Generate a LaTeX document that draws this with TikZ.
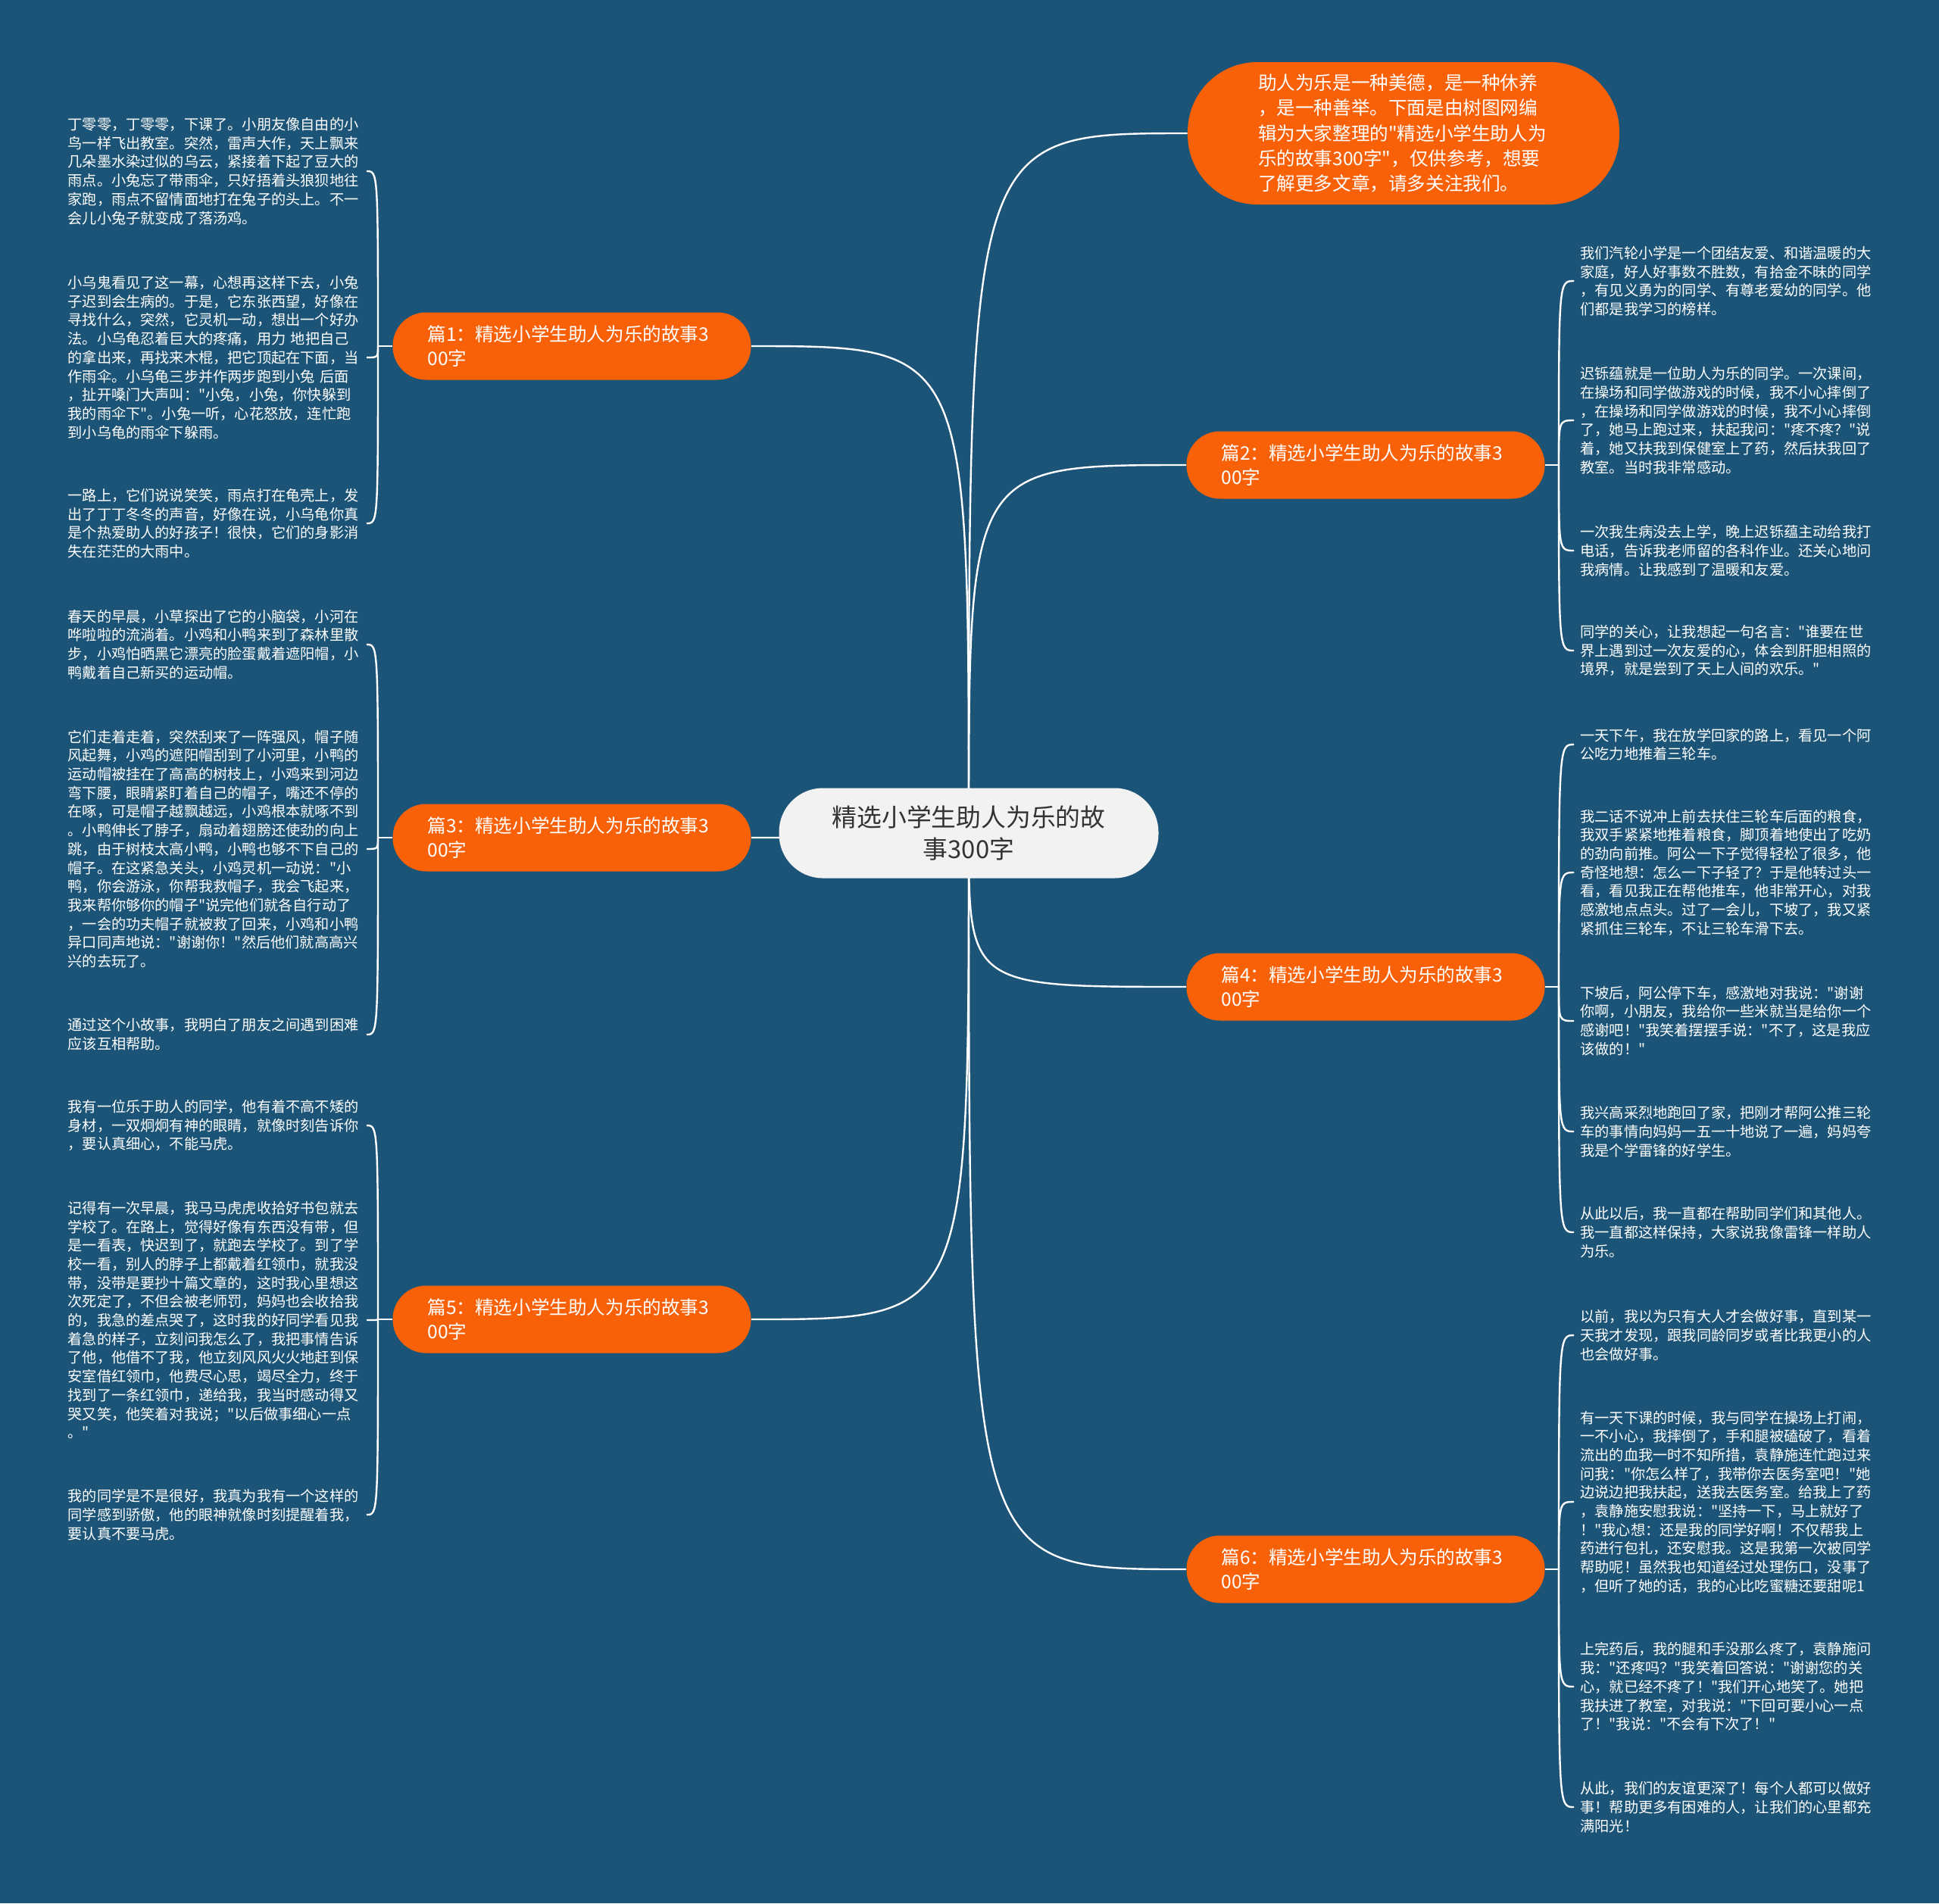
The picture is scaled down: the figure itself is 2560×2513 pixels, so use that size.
\documentclass[tikz,border=0pt]{standalone}
\usepackage{fontspec}
\setmainfont{Noto Sans CJK SC}[Ligatures=TeXOff]
\definecolor{stbg}{HTML}{1B5477}
\definecolor{storange}{HTML}{F86108}
\definecolor{stcenter}{HTML}{F2F2F2}
\definecolor{stdark}{HTML}{333333}
\usepackage{tikz}
\usetikzlibrary{calc}
\pgfdeclarelayer{bg}
\pgfdeclarelayer{edges}
\pgfsetlayers{bg,edges,main}

\begin{document}
\begin{tikzpicture}[x=0.5pt, y=-0.5pt,
  ctr/.style={fill=stcenter, text=stdark, rounded corners=29pt, minimum width=250.5pt,
              minimum height=59.5pt, align=center, font=\fontsize{16.4}{21}\selectfont},
  intro/.style={fill=storange, text=white, rounded corners=46pt, minimum width=285pt,
                minimum height=94pt, text width=192pt, align=left,
                font=\fontsize{12.3}{16.7}\selectfont},
  br/.style={fill=storange, text=white, rounded corners=22pt, minimum width=236.5pt,
             minimum height=44.5pt, text width=190.5pt, align=left,
             font=\fontsize{12.3}{16}\selectfont},
  txt/.style={text=white, text width=193pt, align=left, inner xsep=4pt, inner ysep=0pt,
              font=\fontsize{9.6}{12.35}\selectfont},
  ltxt/.style={txt, anchor=east},
  rtxt/.style={txt, anchor=west},
  link/.style={draw=white, line width=1.2pt},
]
  \begin{pgfonlayer}{bg}
    \fill[stbg] (0,0) rectangle (2560,2513);
  \end{pgfonlayer}

  % Center and intro
  \node[ctr] (ctr) at (1279,1100) {精选小学生助人为乐的故\\事300字};
  \node[intro] (intro) at (1853,176) {助人为乐是一种美德，是一种休养\\，是一种善举。下面是由树图网编\\辑为大家整理的"精选小学生助人为\\乐的故事300字"，仅供参考，想要\\了解更多文章，请多关注我们。};

  % Branches
  \node[br] (p1) at (755,457) {篇1：精选小学生助人为乐的故事3\\00字};
  \node[br] (p3) at (755,1106) {篇3：精选小学生助人为乐的故事3\\00字};
  \node[br] (p5) at (755,1742) {篇5：精选小学生助人为乐的故事3\\00字};
  \node[br] (p2) at (1803,614) {篇2：精选小学生助人为乐的故事3\\00字};
  \node[br] (p4) at (1803,1303) {篇4：精选小学生助人为乐的故事3\\00字};
  \node[br] (p6) at (1803,2072) {篇6：精选小学生助人为乐的故事3\\00字};

  \coordinate (h1) at (499,457);
  \coordinate (h3) at (499,1106);
  \coordinate (h5) at (499,1742);
  \coordinate (h2) at (2058,614);
  \coordinate (h4) at (2058,1303);
  \coordinate (h6) at (2058,2072);

  % Left texts
  \node[ltxt] (t1a) at (484,226) {丁零零，丁零零，下课了。小朋友像自由的小\\鸟一样飞出教室。突然，雷声大作，天上飘来\\几朵墨水染过似的乌云，紧接着下起了豆大的\\雨点。小兔忘了带雨伞，只好捂着头狼狈地往\\家跑，雨点不留情面地打在兔子的头上。不一\\会儿小兔子就变成了落汤鸡。};
  \node[ltxt] (t1b) at (484,472) {小乌鬼看见了这一幕，心想再这样下去，小兔\\子迟到会生病的。于是，它东张西望，好像在\\寻找什么，突然，它灵机一动，想出一个好办\\法。小乌龟忍着巨大的疼痛，用力 地把自己\\的拿出来，再找来木棍，把它顶起在下面，当\\作雨伞。小乌龟三步并作两步跑到小兔 后面\\，扯开嗓门大声叫："小兔，小兔，你快躲到\\我的雨伞下"。小兔一听，心花怒放，连忙跑\\到小乌龟的雨伞下躲雨。};
  \node[ltxt] (t1c) at (484,691) {一路上，它们说说笑笑，雨点打在龟壳上，发\\出了丁丁冬冬的声音，好像在说，小乌龟你真\\是个热爱助人的好孩子！很快，它们的身影消\\失在茫茫的大雨中。};

  \node[ltxt] (t3a) at (484,851) {春天的早晨，小草探出了它的小脑袋，小河在\\哗啦啦的流淌着。小鸡和小鸭来到了森林里散\\步，小鸡怕晒黑它漂亮的脸蛋戴着遮阳帽，小\\鸭戴着自己新买的运动帽。};
  \node[ltxt] (t3b) at (484,1121) {它们走着走着，突然刮来了一阵强风，帽子随\\风起舞，小鸡的遮阳帽刮到了小河里，小鸭的\\运动帽被挂在了高高的树枝上，小鸡来到河边\\弯下腰，眼睛紧盯着自己的帽子，嘴还不停的\\在啄，可是帽子越飘越远，小鸡根本就啄不到\\。小鸭伸长了脖子，扇动着翅膀还使劲的向上\\跳，由于树枝太高小鸭，小鸭也够不下自己的\\帽子。在这紧急关头，小鸡灵机一动说："小\\鸭，你会游泳，你帮我救帽子，我会飞起来，\\我来帮你够你的帽子"说完他们就各自行动了\\，一会的功夫帽子就被救了回来，小鸡和小鸭\\异口同声地说："谢谢你！"然后他们就高高兴\\兴的去玩了。};
  \node[ltxt] (t3c) at (484,1366) {通过这个小故事，我明白了朋友之间遇到困难\\应该互相帮助。};

  \node[ltxt] (t5a) at (484,1486) {我有一位乐于助人的同学，他有着不高不矮的\\身材，一双炯炯有神的眼睛，就像时刻告诉你\\，要认真细心，不能马虎。};
  \node[ltxt] (t5b) at (484,1743) {记得有一次早晨，我马马虎虎收拾好书包就去\\学校了。在路上，觉得好像有东西没有带，但\\是一看表，快迟到了，就跑去学校了。到了学\\校一看，别人的脖子上都戴着红领巾，就我没\\带，没带是要抄十篇文章的，这时我心里想这\\次死定了，不但会被老师罚，妈妈也会收拾我\\的，我急的差点哭了，这时我的好同学看见我\\着急的样子，立刻问我怎么了，我把事情告诉\\了他，他借不了我，他立刻风风火火地赶到保\\安室借红领巾，他费尽心思，竭尽全力，终于\\找到了一条红领巾，递给我，我当时感动得又\\哭又笑，他笑着对我说；"以后做事细心一点\\。"};
  \node[ltxt] (t5c) at (484,2000) {我的同学是不是很好，我真为我有一个这样的\\同学感到骄傲，他的眼神就像时刻提醒着我，\\要认真不要马虎。};

  % Right texts
  \node[rtxt] (t2a) at (2078,371) {我们汽轮小学是一个团结友爱、和谐温暖的大\\家庭，好人好事数不胜数，有拾金不昧的同学\\，有见义勇为的同学、有尊老爱幼的同学。他\\们都是我学习的榜样。};
  \node[rtxt] (t2b) at (2078,555) {迟铄蕴就是一位助人为乐的同学。一次课间，\\在操场和同学做游戏的时候，我不小心摔倒了\\，在操场和同学做游戏的时候，我不小心摔倒\\了，她马上跑过来，扶起我问："疼不疼？"说\\着，她又扶我到保健室上了药，然后扶我回了\\教室。当时我非常感动。};
  \node[rtxt] (t2c) at (2078,727) {一次我生病没去上学，晚上迟铄蕴主动给我打\\电话，告诉我老师留的各科作业。还关心地问\\我病情。让我感到了温暖和友爱。};
  \node[rtxt] (t2d) at (2078,859) {同学的关心，让我想起一句名言："谁要在世\\界上遇到过一次友爱的心，体会到肝胆相照的\\境界，就是尝到了天上人间的欢乐。"};

  \node[rtxt] (t4a) at (2078,983) {一天下午，我在放学回家的路上，看见一个阿\\公吃力地推着三轮车。};
  \node[rtxt] (t4b) at (2078,1152) {我二话不说冲上前去扶住三轮车后面的粮食，\\我双手紧紧地推着粮食，脚顶着地使出了吃奶\\的劲向前推。阿公一下子觉得轻松了很多，他\\奇怪地想：怎么一下子轻了？于是他转过头一\\看，看见我正在帮他推车，他非常开心，对我\\感激地点点头。过了一会儿，下坡了，我又紧\\紧抓住三轮车，不让三轮车滑下去。};
  \node[rtxt] (t4c) at (2078,1348) {下坡后，阿公停下车，感激地对我说："谢谢\\你啊，小朋友，我给你一些米就当是给你一个\\感谢吧！"我笑着摆摆手说："不了，这是我应\\该做的！"};
  \node[rtxt] (t4d) at (2078,1494) {我兴高采烈地跑回了家，把刚才帮阿公推三轮\\车的事情向妈妈一五一十地说了一遍，妈妈夸\\我是个学雷锋的好学生。};
  \node[rtxt] (t4e) at (2078,1627) {从此以后，我一直都在帮助同学们和其他人。\\我一直都这样保持，大家说我像雷锋一样助人\\为乐。};

  \node[rtxt] (t6a) at (2078,1763) {以前，我以为只有大人才会做好事，直到某一\\天我才发现，跟我同龄同岁或者比我更小的人\\也会做好事。};
  \node[rtxt] (t6b) at (2078,1983) {有一天下课的时候，我与同学在操场上打闹，\\一不小心，我摔倒了，手和腿被磕破了，看着\\流出的血我一时不知所措，袁静施连忙跑过来\\问我："你怎么样了，我带你去医务室吧！"她\\边说边把我扶起，送我去医务室。给我上了药\\，袁静施安慰我说："坚持一下，马上就好了\\！"我心想：还是我的同学好啊！不仅帮我上\\药进行包扎，还安慰我。这是我第一次被同学\\帮助呢！虽然我也知道经过处理伤口，没事了\\，但听了她的话，我的心比吃蜜糖还要甜呢1};
  \node[rtxt] (t6c) at (2078,2227) {上完药后，我的腿和手没那么疼了，袁静施问\\我："还疼吗？"我笑着回答说："谢谢您的关\\心，就已经不疼了！"我们开心地笑了。她把\\我扶进了教室，对我说："下回可要小心一点\\了！"我说："不会有下次了！"};
  \node[rtxt] (t6d) at (2078,2386) {从此，我们的友谊更深了！每个人都可以做好\\事！帮助更多有困难的人，让我们的心里都充\\满阳光！};

  % Connectors
  \begin{pgfonlayer}{edges}
    \foreach \b in {intro.west, p2.west, p4.west, p6.west, p1.east, p3.east, p5.east}
      \draw[link] (ctr.center) .. controls (ctr.center |- \b) and (ctr.center |- \b) .. (\b);
    \foreach \p in {1,3,5}
      \draw[link] (p\p.west) -- (h\p);
    \foreach \p in {2,4,6}
      \draw[link] (p\p.east) -- (h\p);
    \foreach \h/\t in {1/t1a, 1/t1b, 1/t1c, 3/t3a, 3/t3b, 3/t3c, 5/t5a, 5/t5b, 5/t5c}
      \draw[link] (h\h) .. controls (h\h |- \t.east) .. (\t.east);
    \foreach \h/\t in {2/t2a, 2/t2b, 2/t2c, 2/t2d, 4/t4a, 4/t4b, 4/t4c, 4/t4d, 4/t4e,
                       6/t6a, 6/t6b, 6/t6c, 6/t6d}
      \draw[link] (h\h) .. controls (h\h |- \t.west) .. (\t.west);
  \end{pgfonlayer}
\end{tikzpicture}
\end{document}
